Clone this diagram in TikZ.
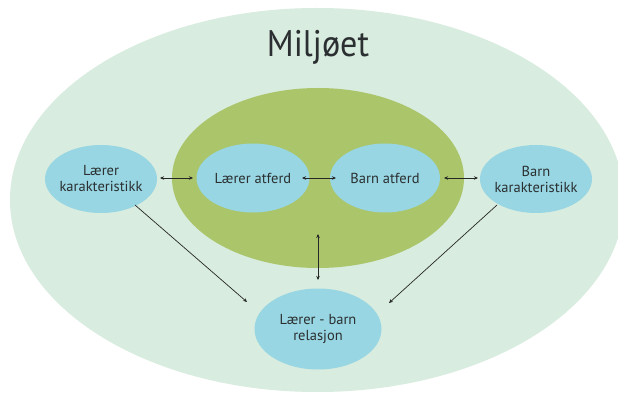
\documentclass[tikz,border=0pt]{standalone}
\usepackage{fontspec}
\setmainfont{PT Sans}
\usetikzlibrary{arrows.meta,shapes.geometric}
\definecolor{outerbg}{HTML}{D8ECDF}
\definecolor{innergreen}{HTML}{AAC56A}
\definecolor{bubble}{HTML}{97D6E2}
\definecolor{txt}{HTML}{2B2F31}
\tikzset{
  bub/.style={ellipse, fill=bubble, draw=none, text=txt, align=center, inner xsep=-14pt, inner ysep=-6pt, font=\fontsize{14.5}{16}\selectfont},
  conn/.style={draw=black!85, line width=0.7pt, -{Stealth[length=4pt,width=3.5pt]}},
  dconn/.style={draw=black!85, line width=0.7pt, {Stealth[length=4pt,width=3.5pt]}-{Stealth[length=4pt,width=3.5pt]}}
}
\begin{document}
\begin{tikzpicture}[x=1pt,y=-1pt]
\useasboundingbox (0,0) rectangle (618,395);
\clip (0,0) rectangle (618,395);
\fill[white] (0,0) rectangle (618,395);
\fill[outerbg] (317,200) ellipse [x radius=307, y radius=192];
\fill[innergreen] (318,178) ellipse [x radius=146, y radius=90];
\node[text=txt, font=\fontsize{37}{40}\selectfont] (title) at (318,47) {\scalebox{0.92}[1]{Miljøet}};
\node[bub, minimum width=113pt, minimum height=69pt] (la) at (253,178) {Lærer atferd};
\node[bub, minimum width=110pt, minimum height=69pt] (ba) at (385,178) {Barn atferd};
\node[bub, minimum width=112pt, minimum height=68pt] (lk) at (101,179) {Lærer\\karakteristikk};
\node[bub, minimum width=112pt, minimum height=68pt] (bk) at (536,179) {Barn\\karakteristikk};
\node[bub, minimum width=127pt, minimum height=81pt] (rel) at (318,329) {Lærer - barn\\relasjon};
\coordinate (gtop) at (318,234);
\coordinate (gbot) at (318,280);
\coordinate (lkr) at (160,178);
\coordinate (lal) at (193,178);
\coordinate (lar) at (302,178);
\coordinate (bal) at (336,178);
\coordinate (bar) at (444,178);
\coordinate (bkl) at (478,178);
\coordinate (lkd) at (135,205);
\coordinate (rell) at (247,302);
\coordinate (bkd) at (497,205);
\coordinate (relr) at (389,303);
\draw[dconn] (lkr) -- (lal);
\draw[dconn] (lar) -- (bal);
\draw[dconn] (bar) -- (bkl);
\draw[dconn] (gtop) -- (gbot);
\draw[conn] (lkd) -- (rell);
\draw[conn] (bkd) -- (relr);
\end{tikzpicture}
\end{document}
